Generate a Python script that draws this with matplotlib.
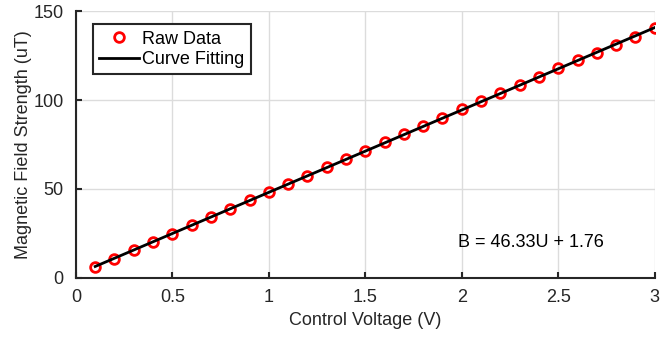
import numpy as np
import matplotlib.pyplot as plt

plt.rcParams['font.family'] = ['Liberation Sans', 'DejaVu Sans']

voltage = [0.1, 0.2, 0.3, 0.4, 0.5, 0.6, 0.7, 0.8, 0.9, 1.0,
           1.1, 1.2, 1.3, 1.4, 1.5, 1.6, 1.7, 1.8, 1.9, 2.0,
           2.1, 2.2, 2.3, 2.4, 2.5, 2.6, 2.7, 2.8, 2.9, 3.0]
field = [6.0, 10.7, 15.5, 20.0, 24.8, 29.5, 34.2, 38.8, 43.5, 48.0,
         52.8, 57.5, 62.2, 66.8, 71.5, 76.2, 80.8, 85.5, 90.0, 94.7,
         99.3, 104.0, 108.6, 113.2, 117.8, 122.4, 126.2, 131.0, 135.5, 140.3]
slope = 46.33
intercept = 1.76

fig = plt.figure(figsize=(6.6, 3.38), dpi=100)
ax = fig.add_axes([0.115, 0.178, 0.877, 0.789])

x = np.array(voltage)
ax.plot(x, field, 'o', mfc='none', mec='red', mew=2, ms=7, label='Raw Data', zorder=3)
ax.plot(x, slope * x + intercept, 'k-', lw=2, label='Curve Fitting', zorder=4)

ax.set_xlim(0, 3)
ax.set_ylim(0, 150)
ax.set_xticks([0, 0.5, 1, 1.5, 2, 2.5, 3])
ax.set_xticklabels(['0', '0.5', '1', '1.5', '2', '2.5', '3'])
ax.set_yticks([0, 50, 100, 150])
ax.grid(True, color='#dcdcdc', lw=1)
ax.set_axisbelow(True)
ax.tick_params(direction='in', length=4, width=1.5, labelsize=13, colors='#262626',
               top=False, right=False)
ax.tick_params(axis='x', pad=8)
ax.tick_params(axis='y', pad=9)
for s in ['top', 'right']:
    ax.spines[s].set_visible(False)
for s in ['left', 'bottom']:
    ax.spines[s].set_color('#262626')
    ax.spines[s].set_linewidth(1.5)

ax.set_xlabel('Control Voltage (V)', fontsize=13, color='#262626', labelpad=4)
ax.set_ylabel('Magnetic Field Strength (uT)', fontsize=13, color='#262626', labelpad=1)
ax.text(1.98, 17.5, 'B = %.2fU + %.2f' % (slope, intercept), fontsize=13, va='baseline')

leg = ax.legend(loc='upper left', bbox_to_anchor=(0.029, 0.951), fontsize=13, fancybox=False,
                framealpha=1, edgecolor='#262626', handlelength=2.2, borderpad=0.35,
                labelspacing=0.2, handletextpad=0.2, borderaxespad=0)
leg.get_frame().set_linewidth(1.5)

fig.savefig('out.png', dpi=100)
